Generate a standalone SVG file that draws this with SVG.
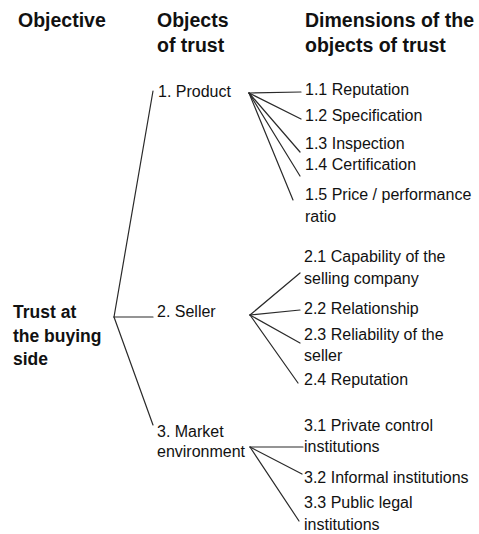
<svg xmlns="http://www.w3.org/2000/svg" width="479" height="534" viewBox="0 0 479 534">
  <style>
    text { font-family: "Liberation Sans", Arial, sans-serif; fill: #111; }
    .head { font-size: 19.5px; font-weight: bold; }
    .root { font-size: 17.5px; font-weight: bold; }
    .item { font-size: 16px; }
    .link { stroke: #2a2a2a; stroke-width: 1.2; fill: none; stroke-linecap: round; }
  </style>
  <rect width="479" height="534" fill="#fff"/>

  <!-- column headings -->
  <g id="headings">
    <text class="head" x="18" y="27">Objective</text>
    <text class="head" x="157" y="27">Objects</text>
    <text class="head" x="157" y="52">of trust</text>
    <text class="head" x="305" y="27">Dimensions of the</text>
    <text class="head" x="305" y="52">objects of trust</text>
  </g>

  <!-- connectors -->
  <g id="connectors" class="link">
    <!-- objective to objects -->
    <line x1="114" y1="317" x2="153" y2="91"/>
    <line x1="114" y1="317" x2="153" y2="317"/>
    <line x1="114" y1="317" x2="153" y2="425"/>
    <!-- product dimensions -->
    <line x1="249" y1="93" x2="301" y2="92"/>
    <line x1="249" y1="93" x2="301" y2="119"/>
    <line x1="249" y1="93" x2="300" y2="152"/>
    <line x1="249" y1="93" x2="300" y2="176"/>
    <line x1="249" y1="93" x2="293" y2="200"/>
    <!-- seller dimensions -->
    <line x1="250" y1="315" x2="300" y2="273"/>
    <line x1="250" y1="315" x2="300" y2="310"/>
    <line x1="250" y1="315" x2="300" y2="343"/>
    <line x1="250" y1="315" x2="298" y2="383"/>
    <!-- market environment dimensions -->
    <line x1="250" y1="447" x2="303" y2="447"/>
    <line x1="250" y1="447" x2="302" y2="474"/>
    <line x1="250" y1="447" x2="299" y2="521"/>
  </g>

  <g id="objective">
    <text class="root" x="13" y="317.5">Trust at</text>
    <text class="root" x="13" y="341.5">the buying</text>
    <text class="root" x="13" y="365">side</text>
  </g>

  <g id="product">
    <text class="item" x="158" y="97">1. Product</text>
  </g>
  <g id="seller">
    <text class="item" x="157" y="317">2. Seller</text>
  </g>
  <g id="market">
    <text class="item" x="157" y="437">3. Market</text>
    <text class="item" x="157" y="457">environment</text>
  </g>

  <g id="dim-1-1"><text class="item" x="305" y="95">1.1 Reputation</text></g>
  <g id="dim-1-2"><text class="item" x="305" y="121">1.2 Specification</text></g>
  <g id="dim-1-3"><text class="item" x="305" y="149">1.3 Inspection</text></g>
  <g id="dim-1-4"><text class="item" x="305" y="170">1.4 Certification</text></g>
  <g id="dim-1-5">
    <text class="item" x="305" y="200">1.5 Price / performance</text>
    <text class="item" x="305" y="221.5">ratio</text>
  </g>

  <g id="dim-2-1">
    <text class="item" x="304" y="262">2.1 Capability of the</text>
    <text class="item" x="304" y="284">selling company</text>
  </g>
  <g id="dim-2-2"><text class="item" x="304" y="314">2.2 Relationship</text></g>
  <g id="dim-2-3">
    <text class="item" x="304" y="340">2.3 Reliability of the</text>
    <text class="item" x="304" y="361">seller</text>
  </g>
  <g id="dim-2-4"><text class="item" x="304" y="385">2.4 Reputation</text></g>

  <g id="dim-3-1">
    <text class="item" x="304" y="431">3.1 Private control</text>
    <text class="item" x="304" y="452">institutions</text>
  </g>
  <g id="dim-3-2"><text class="item" x="304" y="483">3.2 Informal institutions</text></g>
  <g id="dim-3-3">
    <text class="item" x="304" y="508">3.3 Public legal</text>
    <text class="item" x="304" y="530">institutions</text>
  </g>
</svg>
